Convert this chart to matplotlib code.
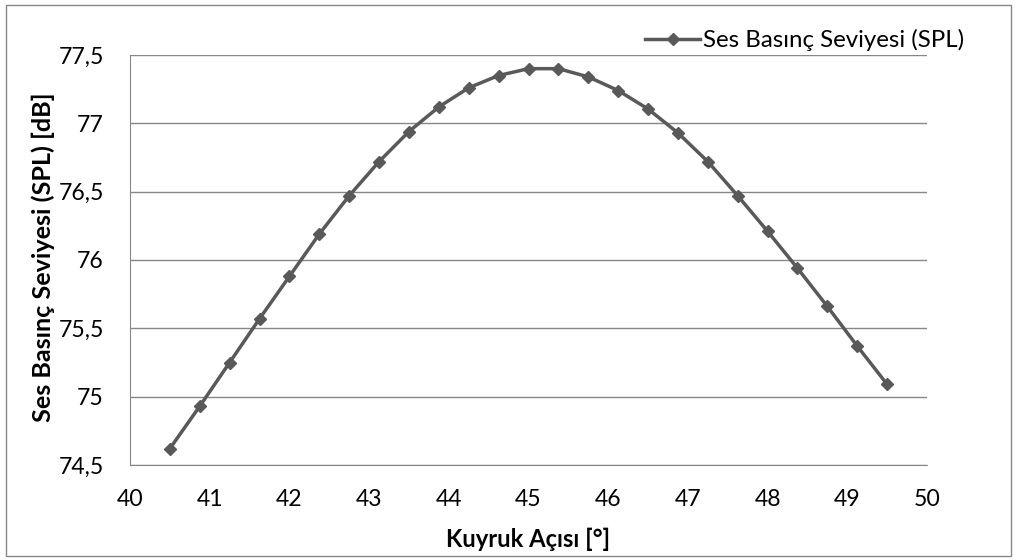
import matplotlib
matplotlib.use("Agg")
import matplotlib.pyplot as plt
from matplotlib.patches import Rectangle

# Data
angles = [40.5, 40.875, 41.25, 41.625, 42.0, 42.375, 42.75, 43.125, 43.5, 43.875,
          44.25, 44.625, 45.0, 45.375, 45.75, 46.125, 46.5, 46.875, 47.25, 47.625,
          48.0, 48.375, 48.75, 49.125, 49.5]
spl = [74.62, 74.93, 75.25, 75.57, 75.88, 76.19, 76.47, 76.72, 76.94, 77.12,
       77.26, 77.35, 77.40, 77.40, 77.34, 77.24, 77.105, 76.93, 76.72, 76.47,
       76.21, 75.94, 75.66, 75.37, 75.09]
series_name = "Ses Basınç Seviyesi (SPL)"
x_ticks = [40, 41, 42, 43, 44, 45, 46, 47, 48, 49, 50]
y_ticks = [74.5, 75, 75.5, 76, 76.5, 77, 77.5]
y_tick_labels = ["74,5", "75", "75,5", "76", "76,5", "77", "77,5"]
x_label = "Kuyruk Açısı [°]"
y_label = "Ses Basınç Seviyesi (SPL) [dB]"

plt.rcParams['font.family'] = ['Lato', 'DejaVu Sans']

W, H = 1017, 560
fig = plt.figure(figsize=(W / 100, H / 100), dpi=100)
L, R, T, B = 130, 927, 55, 465
ax = fig.add_axes([L / W, 1 - B / H, (R - L) / W, (B - T) / H])

line_color = '#595959'
grid_color = '#878787'

ax.plot(angles, spl, color=line_color, lw=2.5, marker='D', markersize=6.3,
        markerfacecolor=line_color, markeredgecolor=line_color, markeredgewidth=1,
        label=series_name, zorder=3, clip_on=False)

ax.set_xlim(40, 50)
ax.set_ylim(74.5, 77.5)
ax.set_xticks(x_ticks)
ax.set_xticklabels([str(t) for t in x_ticks])
ax.set_yticks(y_ticks)
ax.set_yticklabels(y_tick_labels)
ax.tick_params(axis='both', length=0, labelsize=15, colors='black')
ax.tick_params(axis='y', pad=18.7)
ax.tick_params(axis='x', pad=18)
ax.grid(axis='y', color=grid_color, lw=1)
ax.set_axisbelow(True)
for s in ['top', 'right']:
    ax.spines[s].set_visible(False)
ax.spines['left'].set_color(grid_color)
ax.spines['bottom'].set_color(grid_color)

xl = ax.set_xlabel(x_label, fontsize=14, fontweight='bold', va='center', ha='center')
ax.xaxis.set_label_coords(528 / W, 1 - 539 / H, transform=fig.transFigure)
yl = ax.set_ylabel(y_label, fontsize=14, fontweight='bold', va='center', ha='center')
ax.yaxis.set_label_coords(43 / W, 1 - 257 / H, transform=fig.transFigure)

fig.patches.append(Rectangle((6 / W, 4 / H), 1 - 12 / W, 1 - 9 / H,
                             transform=fig.transFigure, fill=False,
                             edgecolor=grid_color, lw=1))

# fit font sizes to the reference text extents
fig.canvas.draw()
r = fig.canvas.get_renderer()

def scale_for(text, target):
    w = text.get_window_extent(r).width
    return target / w

ytl = ax.get_yticklabels()[-1]
xtl = ax.get_xticklabels()[4]
s1 = scale_for(ytl, 45)
s2 = scale_for(xtl, 27)
tick_fs = 15 * (s1 + s2) / 2
ax.tick_params(axis='both', labelsize=tick_fs)
xl.set_fontsize(14 * scale_for(xl, 165))
yl.set_fontsize(14 * 330 / yl.get_window_extent(r).height)

fig.canvas.draw()
# x tick labels centred at y=499 px from top
bb = ax.get_xticklabels()[4].get_window_extent(r)
cy = H - (bb.y0 + bb.y1) / 2
ax.tick_params(axis='x', pad=18 + (499 - cy) * 0.72)
# y tick labels right edge at 104 px
bb = ax.get_yticklabels()[-1].get_window_extent(r)
ax.tick_params(axis='y', pad=18.7 + (bb.x1 - 104) * 0.72)

# legend: text width 260 px
probe = fig.text(0, 0, series_name, fontsize=12)
lfs = 12 * 260 / probe.get_window_extent(r).width
probe.remove()
fs_px = lfs * 100 / 72
leg = ax.legend(loc='center left', bbox_to_anchor=(645 / W, 1 - 40 / H),
                bbox_transform=fig.transFigure, frameon=False, fontsize=lfs,
                handlelength=55 / fs_px, handletextpad=3 / fs_px,
                borderaxespad=0, borderpad=0, numpoints=1)

fig.savefig("out.png", dpi=100, facecolor='white')
